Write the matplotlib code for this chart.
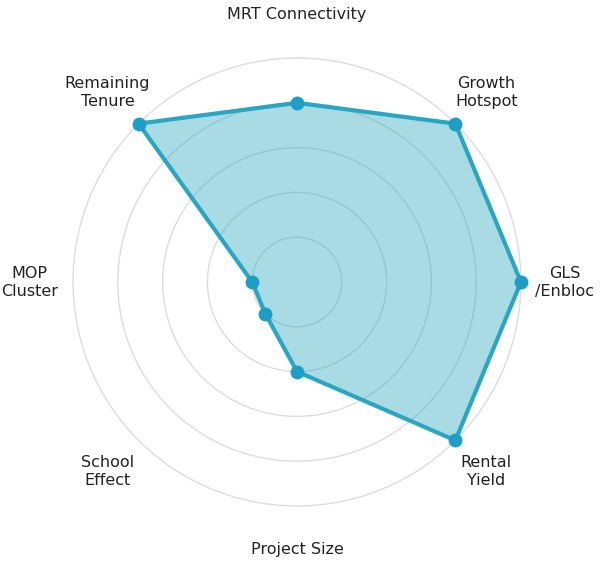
import numpy as np
import matplotlib
matplotlib.use("Agg")
import matplotlib.pyplot as plt

categories = ["MRT Connectivity", "Growth\nHotspot", "GLS\n/Enbloc", "Rental\nYield",
              "Project Size", "School\nEffect", "MOP\nCluster", "Remaining\nTenure"]
values = [4, 5, 5, 5, 2, 1, 1, 5]
ring_levels = [1, 2, 3, 4, 5]

line_color = "#2AA6C0"
marker_color = "#1E9EC6"

fig = plt.figure(figsize=(6.0, 5.62), dpi=100)
ax = fig.add_axes([0.118, 0.0957, 0.754, 0.805], polar=True)
ax.set_theta_offset(np.pi / 2)
ax.set_theta_direction(-1)

n = len(categories)
angles = np.linspace(0, 2 * np.pi, n, endpoint=False)
a_closed = np.concatenate([angles, angles[:1]])
v_closed = np.concatenate([values, values[:1]])

ax.set_ylim(0, 5.05)
ax.set_yticks(ring_levels)
ax.set_yticklabels([])
ax.set_xticks([])
ax.spines["polar"].set_visible(False)
ax.yaxis.grid(True, color="#dcdcdc", linewidth=1.0)
ax.xaxis.grid(False)
ax.set_facecolor("white")

ax.fill(a_closed, v_closed, color=line_color, alpha=0.4, zorder=2, linewidth=0)
ax.plot(a_closed, v_closed, color=line_color, linewidth=3, zorder=3)
ax.plot(angles, values, "o", color=marker_color, markersize=9, zorder=4, clip_on=False)

for ang, lab in zip(angles, categories):
    ax.text(ang, 5.98, lab, ha="center", va="center", fontsize=11.5,
            color="#222222", linespacing=1.25)

fig.savefig("out.png", dpi=100, facecolor="white")
